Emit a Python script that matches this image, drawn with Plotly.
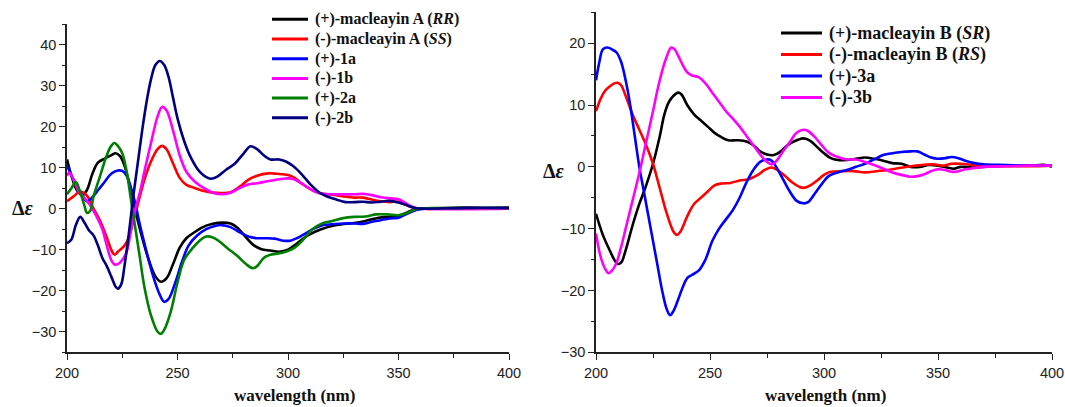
import plotly.graph_objects as go

# ---------------- Panel A: macleayin A, 1a/1b, 2a/2b ----------------
wl_A_RR = [200, 202, 204.5, 207, 209, 211.5, 214, 217, 220, 222, 224, 226, 228, 230.5, 233.5, 237, 240, 242.5,
           245, 248, 251, 254, 257, 261, 266, 270.5, 274, 277, 281, 284, 288, 292, 296, 300, 304, 309, 315,
           322, 330, 335, 341, 347, 350, 354, 358, 365, 380, 390, 400]
cd_A_RR = [12, 8, 4.5, 3.3, 4.5, 8.5, 11.2, 12.2, 13, 13.5, 12.8, 10.5, 6.5, 0.5, -6, -12.5, -16.5, -17.8,
           -17, -13.5, -9.5, -7.2, -6, -4.6, -3.7, -3.4, -3.6, -4.6, -7, -8.7, -9.9, -10.2, -10.5, -10, -8.5,
           -6.5, -5, -4, -3.5, -3, -2.2, -2, -1.8, -0.9, -0.1, 0, 0.2, 0.1, 0.2]

wl_A_SS = [200, 203, 206, 209, 212, 215, 218, 220, 221.5, 223, 226, 228, 230, 232, 235, 238, 241, 243, 245,
           248, 251, 254, 258, 262, 266, 270, 274, 278, 282, 286, 291, 295, 300, 303, 306, 310, 314, 320, 325,
           330, 334, 338, 342, 346, 350, 353, 357, 360, 370, 380, 390, 400]
cd_A_SS = [1.8, 3, 4.2, 3.2, 0, -3, -7, -10, -11.2, -10.5, -9, -7, -3, 1, 7, 11.5, 14.5, 15.3, 14.5,
           11, 7.5, 5.8, 5, 4.3, 3.9, 3.8, 4, 5.3, 7, 8, 8.6, 8.5, 8.2, 7.5, 6.2, 4.8, 3.8, 3.4, 3,
           2.7, 2.7, 2.2, 1.8, 1.6, 1.7, 1, 0.2, 0, 0, 0.2, 0.1, 0.2]

wl_1a = [200, 203, 206, 209, 211, 214, 217, 220, 223, 225, 227, 229, 231, 233, 236, 239, 242, 244, 246, 249,
         252, 255, 259, 263, 267, 270, 274, 278, 282, 286, 290, 294, 298, 301, 304, 308, 312, 316, 320, 325,
         330, 334, 338, 342, 346, 350, 354, 358, 362, 380, 400]
cd_1a = [10.5, 7, 4, 1.8, 2.5, 4.5, 6.5, 8.5, 9.3, 9.2, 8, 5, 1, -4, -10.5, -16.5, -21, -22.7, -22, -18,
         -13, -9, -6.5, -5, -4.2, -4, -4.5, -5.7, -6.8, -7.2, -7.2, -7.3, -7.8, -7.8, -7.2, -6, -4.8, -4,
         -3.8, -3.6, -3.6, -3.7, -3.2, -2.8, -2.4, -2.2, -1.2, -0.3, 0, 0.1, 0.1]

wl_1b = [200, 201, 203, 205, 208, 210, 213, 216, 218, 220, 221.5, 223, 225, 227, 229, 231, 233, 235, 238,
         241, 243, 245, 248, 251, 254, 258, 262, 266, 270, 274, 278, 282, 286, 290, 294, 298, 302, 306, 310,
         314, 320, 325, 330, 334, 338, 342, 346, 350, 353, 357, 362, 380, 400]
cd_1b = [8, 8.8, 7, 4.5, 2.5, 1.2, -1.5, -5, -9, -12.5, -13.6, -13.5, -12.5, -10.5, -5, 0, 4, 9, 16,
         22.5, 24.8, 24, 19, 13, 9, 6.5, 5, 3.9, 3.5, 3.9, 5, 5.9, 6.2, 6.6, 7, 7.3, 7.3, 6.2, 4.8,
         3.8, 3.5, 3.5, 3.5, 3.6, 3.3, 2.8, 2.5, 2.3, 1.4, 0.3, 0, -0.1, 0]

wl_2a = [200, 202, 204, 206, 208, 209, 210.5, 212, 215, 218, 220, 221.5, 223, 225, 227, 229, 231, 233, 235,
         238, 241, 242.5, 244, 247, 250, 253, 257, 260, 263, 266, 269, 273, 277, 281, 284, 286, 289, 292,
         295, 299, 303, 307, 311, 315, 320, 325, 330, 335, 340, 345, 350, 354, 358, 362, 380, 400]
cd_2a = [3.5, 5, 6.5, 4, 0.5, -1, -0.5, 3, 8, 13, 15.3, 16, 15.3, 13.5, 9, 2, -5, -12, -19,
         -26, -30, -30.5, -29.5, -25, -18, -12.5, -9.5, -7.8, -6.8, -7, -8, -9.8, -11.5, -13.5, -14.5,
         -14, -12, -11.2, -11, -10.5, -9.5, -7.5, -5, -3.7, -3, -2.3, -2, -1.9, -1.4, -1.4, -1.6, -1,
         -0.1, 0.1, 0.2, 0.2]

wl_2b = [200, 202, 204, 206, 208, 210, 212, 214, 216, 218, 220, 222, 223, 224.5, 226, 228, 230, 232, 234,
         236, 238, 240, 242, 244, 246, 248, 250, 253, 256, 260, 263, 265, 268, 272, 276, 280, 283, 286,
         289, 292, 296, 299, 302, 306, 310, 314, 318, 322, 326, 330, 334, 338, 342, 346, 350, 354, 358,
         362, 380, 400]
cd_2b = [-8.4, -7.5, -4, -2, -3.5, -5.3, -6.5, -9, -12, -14, -16.5, -19, -19.5, -18.5, -14, -6, 3, 11, 19,
         26, 31.5, 35, 36, 35, 32, 27, 22, 16.5, 12.5, 9, 7.7, 7.3, 7.8, 9.5, 11, 13.5, 15.2, 14.5,
         13, 12, 12, 11.5, 10.5, 8.5, 6, 4, 2.9, 2.2, 1.6, 1.6, 1.7, 1.5, 1.7, 1.9, 1.5, 0.8, 0.1,
         0, 0.2, 0.2]

# ---------------- Panel B: macleayin B, 3a/3b ----------------
wl_B_SR = [200, 203, 206, 208, 209.5, 211, 213, 216, 219, 222, 225, 228, 230, 232, 234, 236, 237.5, 240,
           243, 246, 249, 252, 255, 258, 262, 266, 269, 272, 275, 278, 281, 284, 288, 291, 294, 297, 300,
           303, 306, 310, 314, 318, 322, 326, 330, 334, 338, 342, 346, 350, 354, 357, 360, 365, 370, 380,
           390, 397, 400]
cd_B_SR = [-7.6, -11, -13.5, -15, -15.7, -15.5, -13.5, -9.5, -6, -3, 0.5, 5, 8.5, 10.5, 11.5, 12, 11.7, 10,
           8.5, 7.5, 6.5, 5.5, 4.8, 4.3, 4.3, 4.1, 3.5, 2.5, 2, 1.9, 2.5, 3.5, 4.3, 4.6, 4.2, 3.2, 2.2,
           1.4, 1.1, 1.1, 1.3, 1.5, 1.3, 1, 0.6, 0.5, 0, 0, 0.3, 0.2, -0.1, -0.3, 0, -0.1, 0, 0.2,
           0.2, 0.3, 0]

wl_B_RS = [200, 202, 204, 206, 208, 209.5, 211, 213, 216, 219, 222, 225, 228, 231, 234, 235.5, 237, 240,
           243, 246, 249, 252, 255, 259, 263, 267, 271, 274, 277, 280, 283, 286, 289, 291, 294, 297, 300,
           303, 308, 313, 318, 323, 328, 333, 338, 343, 348, 352, 356, 360, 365, 370, 380, 390, 400]
cd_B_RS = [9, 11, 12.3, 13, 13.5, 13.6, 13.2, 11.5, 8.5, 6, 3.5, 0.5, -3.5, -7.5, -10.5, -11, -10.5, -8,
           -6, -5, -4, -3, -2.7, -2.6, -2.2, -2, -1.3, -0.5, -0.1, -0.6, -1.5, -2.5, -3.2, -3.4, -3, -2.2,
           -1.3, -0.8, -0.7, -0.7, -0.9, -0.7, -0.5, -0.2, 0.1, 0.3, 0.4, 0.2, 0.5, 0.5, 0.3, 0.1, 0.1,
           0.1, 0.2]

wl_3a = [200, 201.5, 203, 205, 207, 209, 211, 213, 215, 217, 219, 221, 223, 225, 227, 229, 231, 232.5, 234,
         236, 238, 240, 242, 245, 248, 251, 254, 257, 260, 263, 266, 269, 272, 275, 277, 279, 282, 285,
         288, 291, 293, 296, 299, 302, 306, 310, 314, 318, 322, 326, 330, 334, 338, 341, 344, 347, 350,
         353, 356, 359, 362, 366, 370, 380, 390, 400]
cd_3a = [14, 17, 19, 19.3, 19, 18.5, 17, 14, 10, 5, 0, -4, -8, -12, -16, -20, -23, -24, -23.3,
         -21.5, -19.5, -18, -17.5, -16.8, -15, -12, -10, -8.5, -7, -5, -2.5, -0.5, 0.8, 1.2, 1, 0, -2, -4,
         -5.5, -5.9, -5.7, -4.3, -2.8, -1.5, -0.9, -0.5, 0, 0.5, 1.2, 1.9, 2.2, 2.4, 2.5, 2.5, 2, 1.5,
         1.3, 1.4, 1.6, 1.4, 1, 0.6, 0.4, 0.3, 0.2, 0.2]

wl_3b = [200, 202, 204, 205.5, 207, 209, 211, 213, 216, 219, 222, 225, 227, 229, 231, 233, 234.5, 236, 238,
         240, 242, 245, 248, 251, 254, 257, 260, 263, 266, 269, 272, 275, 277, 279, 282, 285, 288, 291,
         293, 296, 299, 302, 306, 310, 314, 318, 322, 326, 330, 334, 338, 341, 344, 347, 350, 353, 356,
         359, 362, 366, 370, 380, 390, 400]
cd_3b = [-10.8, -14.5, -16.5, -17.2, -16.8, -15.5, -13, -10, -5.5, -1, 4, 9, 12.5, 15.5, 17.8, 19.3, 19, 18,
         16.5, 15.3, 14.8, 14.5, 13.5, 12, 10.5, 9, 7.8, 6.5, 5, 3.5, 2, 0.8, 0.4, 0.9, 2.5, 4, 5.5,
         6, 5.8, 4.8, 3.5, 2.3, 1.6, 1.2, 1.2, 0.8, 0.3, -0.3, -0.9, -1.3, -1.6, -1.5, -1.2, -0.7, -0.4,
         -0.5, -0.8, -0.7, -0.4, -0.2, 0, 0.1, 0.2, 0.2]

names_A = ["(+)-macleayin A (<i>RR</i>)", "(-)-macleayin A (<i>SS</i>)", "(+)-1a", "(-)-1b", "(+)-2a", "(-)-2b"]
colors_A = ["#000000", "#ff0000", "#0000ff", "#ff00ff", "#008000", "#000080"]
series_A = [(wl_A_RR, cd_A_RR), (wl_A_SS, cd_A_SS), (wl_1a, cd_1a), (wl_1b, cd_1b), (wl_2a, cd_2a), (wl_2b, cd_2b)]

names_B = ["(+)-macleayin B (<i>SR</i>)", "(-)-macleayin B (<i>RS</i>)", "(+)-3a", "(-)-3b"]
colors_B = ["#000000", "#ff0000", "#0000ff", "#ff00ff"]
series_B = [(wl_B_SR, cd_B_SR), (wl_B_RS, cd_B_RS), (wl_3a, cd_3a), (wl_3b, cd_3b)]

W, H = 1065, 407
SERIF = "Liberation Serif, Times New Roman, serif"
SANS = "Liberation Sans, Arial, sans-serif"

fig = go.Figure()
for (wl, cd), name, col in zip(series_A, names_A, colors_A):
    fig.add_trace(go.Scatter(x=wl, y=cd, mode="lines", name=name, xaxis="x", yaxis="y",
                             line=dict(color=col, width=2.6, shape="spline", smoothing=1.0),
                             showlegend=False))
for (wl, cd), name, col in zip(series_B, names_B, colors_B):
    fig.add_trace(go.Scatter(x=wl, y=cd, mode="lines", name=name, xaxis="x2", yaxis="y2",
                             line=dict(color=col, width=2.6, shape="spline", smoothing=1.0),
                             showlegend=False))


def px_x(p):
    return p / W


def px_y(p):
    return 1 - p / H


axis_common = dict(showline=True, linecolor="#222222", linewidth=1.6, ticks="outside", ticklen=6,
                   tickwidth=1.4, tickcolor="#222222", showgrid=False, zeroline=False, automargin=False,
                   tickfont=dict(family=SANS, size=14.5, color="#222222"))
minor_y = dict(dtick=5, ticklen=3.5, tickwidth=1.2, tickcolor="#222222", ticks="outside")
minor_x = dict(dtick=25, ticklen=3.5, tickwidth=1.2, tickcolor="#222222", ticks="outside")

fig.update_layout(
    width=W, height=H, margin=dict(l=0, r=0, t=0, b=0, autoexpand=False),
    paper_bgcolor="white", plot_bgcolor="white", showlegend=False,
    xaxis=dict(domain=[px_x(67), px_x(509)], range=[200, 400], dtick=50, tick0=200, anchor="y",
               minor=minor_x, **axis_common),
    yaxis=dict(domain=[px_y(352.3), px_y(24)], range=[-35, 45], dtick=10, tick0=0, anchor="x",
               minor=minor_y, **axis_common),
    xaxis2=dict(domain=[px_x(596), px_x(1052)], range=[200, 400], dtick=50, tick0=200, anchor="y2",
                minor=minor_x, **axis_common),
    yaxis2=dict(domain=[px_y(352.3), px_y(12.3)], range=[-30, 25], dtick=10, tick0=0, anchor="x2",
                minor=minor_y, **axis_common),
)

# Axis titles
for xc, yc in [(23, 208), (554, 171)]:
    fig.add_annotation(text="<b>Δ<i>ε</i></b>", xref="paper", yref="paper", x=px_x(xc), y=px_y(yc),
                       xanchor="center", yanchor="middle", showarrow=False,
                       font=dict(family=SERIF, size=20, color="#111111"))
for xc in [294, 825]:
    fig.add_annotation(text="<b>wavelength (nm)</b>", xref="paper", yref="paper", x=px_x(xc), y=px_y(395),
                       xanchor="center", yanchor="middle", showarrow=False,
                       font=dict(family=SERIF, size=17, color="#111111"))


# Legends: short line sample followed by bold label
def add_legend(names, colors, x0, x1, xt, y_first, step, fsize):
    for i, (nm, col) in enumerate(zip(names, colors)):
        yy = y_first + i * step
        fig.add_shape(type="line", xref="paper", yref="paper", x0=px_x(x0), x1=px_x(x1),
                      y0=px_y(yy), y1=px_y(yy), line=dict(color=col, width=3))
        fig.add_annotation(text="<b>" + nm + "</b>", xref="paper", yref="paper", x=px_x(xt), y=px_y(yy),
                           xanchor="left", yanchor="middle", showarrow=False,
                           font=dict(family=SERIF, size=fsize, color="#111111"))


add_legend(names_A, colors_A, 272, 308, 313, 19.3, 19.7, 16)
add_legend(names_B, colors_B, 781, 822, 827, 33, 21.5, 18)

fig.write_html("out.html")
